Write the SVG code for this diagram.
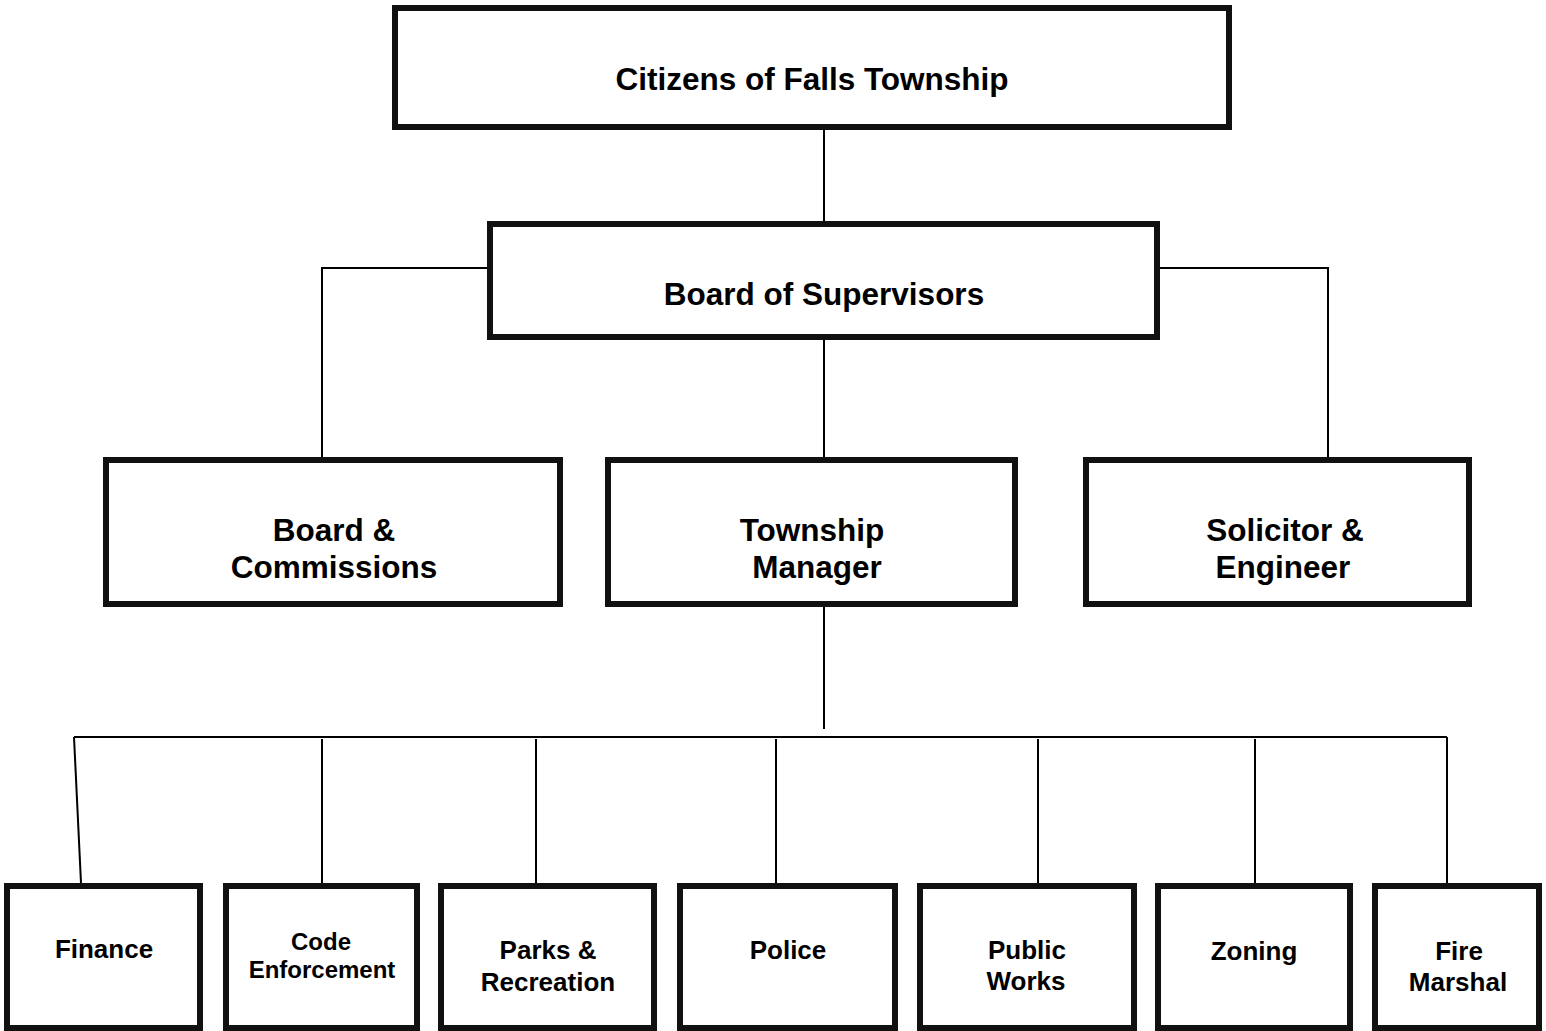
<svg xmlns="http://www.w3.org/2000/svg" width="1546" height="1031" viewBox="0 0 1546 1031">
<style>
.box{fill:#fff;stroke:#111;stroke-width:6}
.ln{fill:none;stroke:#000;stroke-width:2}
.t{font-family:"Liberation Sans",Arial,sans-serif;font-weight:bold;fill:#000;text-anchor:middle}
.l{font-size:31.5px}
.m{font-size:31.5px}
.s{font-size:26px}
.xs{font-size:24px}
</style>
<rect width="1546" height="1031" fill="#fff"/>
<g id="connectors">
<path class="ln" d="M824 130V222"/>
<path class="ln" d="M824 340V458"/>
<path class="ln" d="M487 268H322V458"/>
<path class="ln" d="M1160 268H1328V458"/>
<path class="ln" d="M824 606V729" stroke-width="2.5"/>
<path class="ln" d="M74 737H1447" stroke-width="1.6"/>
<path class="ln" d="M74 737L81 883"/>
<path class="ln" d="M322 739V883"/>
<path class="ln" d="M536 739V883"/>
<path class="ln" d="M776 739V883"/>
<path class="ln" d="M1038 739V883"/>
<path class="ln" d="M1255 739V883"/>
<path class="ln" d="M1447 737V883"/>
</g>
<g id="citizens">
<rect class="box" x="395" y="8" width="834" height="119"/>
<text class="t l" x="812" y="90">Citizens of Falls Township</text>
</g>
<g id="board-of-supervisors">
<rect class="box" x="490" y="224" width="667" height="113"/>
<text class="t l" x="824" y="305">Board of Supervisors</text>
</g>
<g id="board-commissions">
<rect class="box" x="106" y="460" width="454" height="144"/>
<text class="t m" x="334" y="541">Board &amp;</text>
<text class="t m" x="334" y="578">Commissions</text>
</g>
<g id="township-manager">
<rect class="box" x="608" y="460" width="407" height="144"/>
<text class="t m" x="812" y="541">Township</text>
<text class="t m" x="817" y="578">Manager</text>
</g>
<g id="solicitor-engineer">
<rect class="box" x="1086" y="460" width="383" height="144"/>
<text class="t m" x="1285" y="541">Solicitor &amp;</text>
<text class="t m" x="1283" y="578">Engineer</text>
</g>
<g id="finance">
<rect class="box" x="7" y="886" width="193" height="142"/>
<text class="t s" x="104" y="958">Finance</text>
</g>
<g id="code-enforcement">
<rect class="box" x="226" y="886" width="191" height="142"/>
<text class="t xs" x="321" y="950">Code</text>
<text class="t xs" x="322" y="978">Enforcement</text>
</g>
<g id="parks-recreation">
<rect class="box" x="441" y="886" width="213" height="142"/>
<text class="t s" x="548" y="959">Parks &amp;</text>
<text class="t s" x="548" y="991">Recreation</text>
</g>
<g id="police">
<rect class="box" x="680" y="886" width="215" height="142"/>
<text class="t s" x="788" y="959">Police</text>
</g>
<g id="public-works">
<rect class="box" x="920" y="886" width="214" height="142"/>
<text class="t s" x="1027" y="959">Public</text>
<text class="t s" x="1026" y="990">Works</text>
</g>
<g id="zoning">
<rect class="box" x="1158" y="886" width="192" height="142"/>
<text class="t s" x="1254" y="960">Zoning</text>
</g>
<g id="fire-marshal">
<rect class="box" x="1375" y="886" width="164" height="142"/>
<text class="t s" x="1459" y="960">Fire</text>
<text class="t s" x="1458" y="991">Marshal</text>
</g>
</svg>
